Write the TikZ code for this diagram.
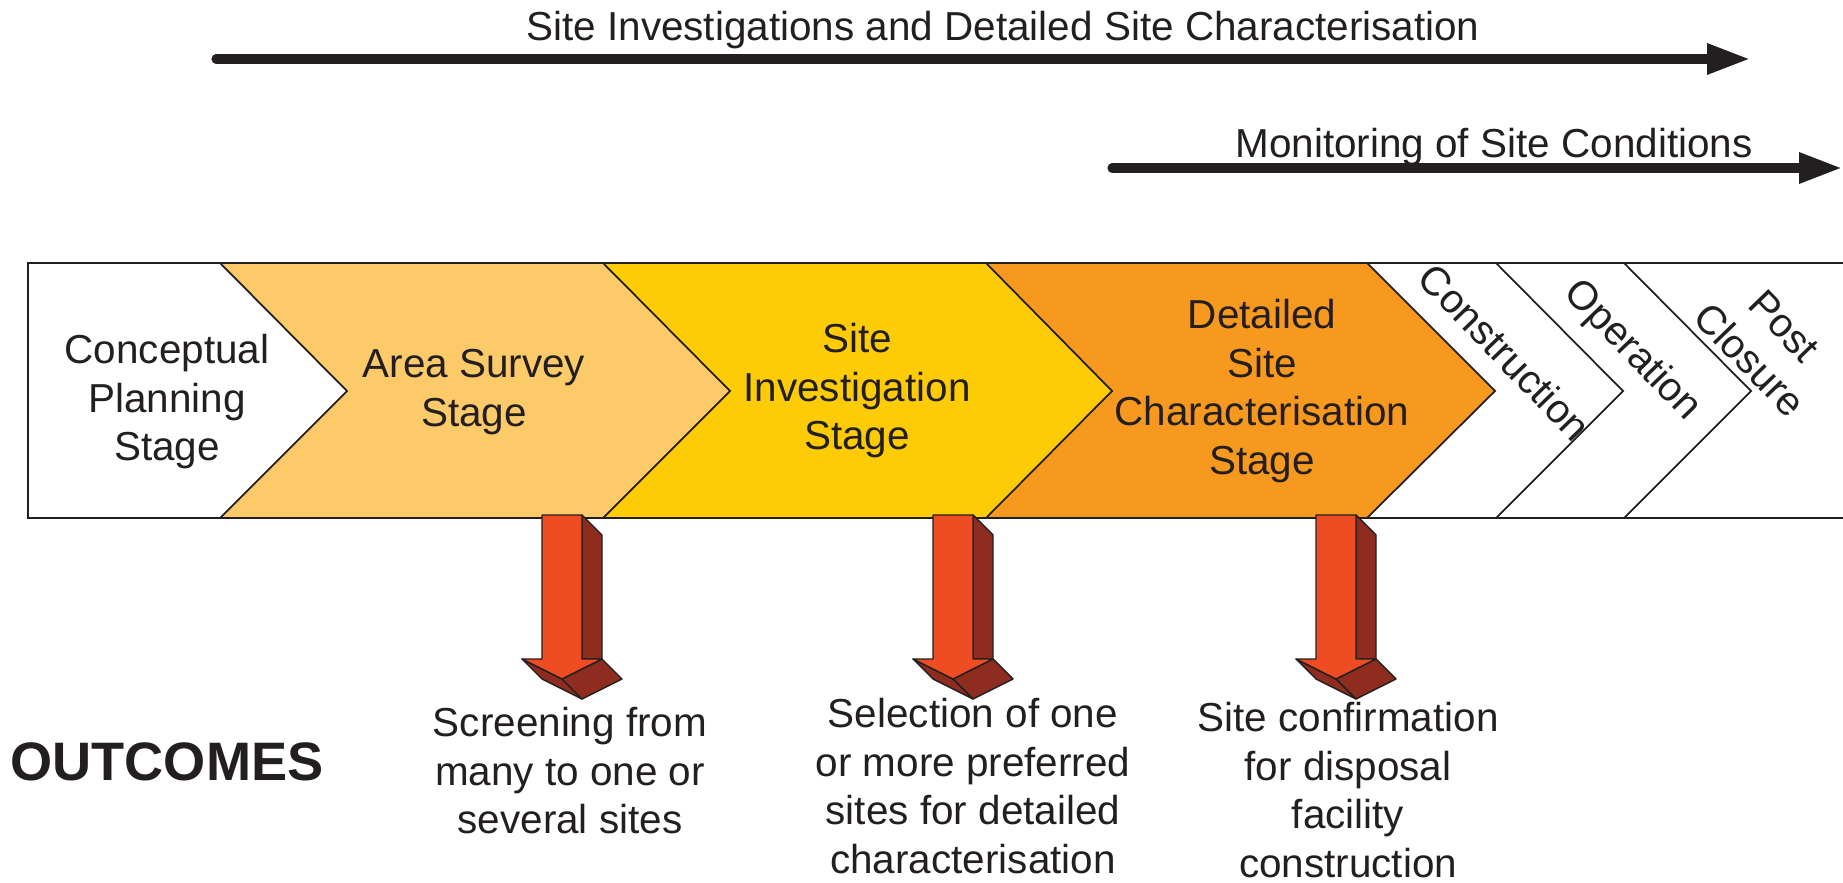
\documentclass[tikz,border=0pt]{standalone}
\usepackage{fontspec}
\setmainfont{Liberation Sans}
\usetikzlibrary{arrows.meta}

\definecolor{inkC}{HTML}{231F20}
\definecolor{areaC}{HTML}{FDCA6A}
\definecolor{siteC}{HTML}{FECC07}
\definecolor{detailC}{HTML}{F7991E}
\definecolor{outFront}{HTML}{EF4C24}
\definecolor{outSide}{HTML}{8E2D1F}

\begin{document}
\begin{tikzpicture}[
    x=0.01cm, y=-0.01cm,
    every node/.style={text=inkC, font=\fontsize{11.5}{13.8}\selectfont},
    stagetext/.style={align=center},
    phasetext/.style={align=center, rotate=-46},
    outtext/.style={align=center},
    bigarrow/.style={-{Triangle[length=4.3mm, width=2.9mm]}, line width=2.6pt, line cap=round, draw=inkC},
    chevline/.style={draw=inkC, line width=0.5pt},
    darkface/.style={fill=outSide, draw=inkC, line width=0.4pt, line join=round},
    frontface/.style={fill=outFront, draw=inkC, line width=0.4pt, line join=round}
]
\useasboundingbox (0,0) rectangle (1843,882);

% Timeline arrows (top)
\coordinate (siStart) at (216,59);
\coordinate (siEnd) at (1750,59);
\draw[bigarrow] (siStart) -- (siEnd);
\node[anchor=base] (siLabel) at (1003,41) {Site Investigations and Detailed Site Characterisation};

\coordinate (monStart) at (1112,168);
\coordinate (monEnd) at (1842,168);
\draw[bigarrow] (monStart) -- (monEnd);
\node[anchor=base] (monLabel) at (1494,158) {Monitoring of Site Conditions};

% Stage bands
\foreach \backA/\tipA/\backB/\tipB/\col in {220/347/603/730/areaC, 603/730/986/1112/siteC, 986/1112/1367/1495/detailC}
    \fill[\col] (\backA,263) -- (\backB,263) -- (\tipB,391) -- (\backB,518) -- (\backA,518) -- (\tipA,391) -- cycle;

\foreach \bx/\tx in {220/347, 603/730, 986/1112, 1367/1495, 1496/1623, 1624/1751}
    \draw[chevline] (\bx,263) -- (\tx,391) -- (\bx,518);

% Box around the stages
\draw[inkC, line width=0.7pt] (1843,263) -- (28,263) -- (28,518) -- (1843,518);

% Stage labels
\node[stagetext] (conceptual) at (167,402) {Conceptual\\Planning\\Stage};
\node[stagetext] (areaSurvey) at (474,392) {Area Survey\\Stage};
\node[stagetext] (siteInv) at (857,391) {Site\\Investigation\\Stage};
\node[stagetext] (detailed) at (1262,391) {Detailed\\Site\\Characterisation\\Stage};
\node[phasetext] (construction) at (1505,352) {Construction};
\node[phasetext] (operation) at (1632,351) {Operation};
\node[phasetext] (postClosure) at (1767,343) {Post\\Closure};

% Outcome arrows (3D, extruded down-right)
\foreach \cx in {562,953,1336} {
    \filldraw[darkface] (\cx+20,515) -- (\cx+40,535) -- (\cx+40,659) -- (\cx+20,659) -- cycle;
    \filldraw[darkface] (\cx-40,659) -- (\cx,679) -- (\cx+20,699) -- (\cx-20,679) -- cycle;
    \filldraw[darkface] (\cx,679) -- (\cx+40,659) -- (\cx+60,679) -- (\cx+20,699) -- cycle;
    \filldraw[frontface] (\cx-20,515) -- (\cx+20,515) -- (\cx+20,659) -- (\cx+40,659) -- (\cx,679) -- (\cx-40,659) -- (\cx-20,659) -- cycle;
}

% Outcomes
\node[font=\fontsize{15.4}{18}\selectfont\bfseries] (outcomes) at (167,762) {OUTCOMES};
\node[outtext] (screening) at (570,771) {Screening from\\many to one or\\several sites};
\node[outtext] (selection) at (973,786) {Selection of one\\or more preferred\\sites for detailed\\characterisation};
\node[outtext] (confirmation) at (1348,790) {Site confirmation\\for disposal\\facility\\construction};

\end{tikzpicture}
\end{document}
